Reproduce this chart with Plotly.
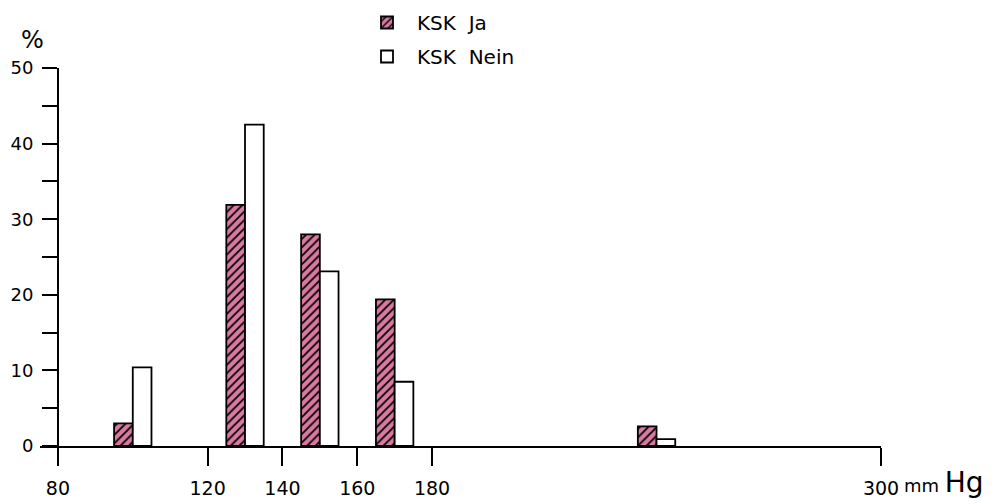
import plotly.graph_objects as go

# Data
bin_starts = [95, 125, 145, 165, 235]          # mmHg, bin start of each pair
ksk_ja = [3.0, 31.9, 28.0, 19.4, 2.6]          # %
ksk_nein = [10.4, 42.5, 23.1, 8.5, 0.9]        # %
bar_width = 5
x_tickvals = [80, 120, 140, 160, 180, 300]
y_tickvals = [0, 5, 10, 15, 20, 25, 30, 35, 40, 45, 50]
y_ticktext = ["0", "", "10", "", "20", "", "30", "", "40", "", "50"]

# page body has an 8px margin: size figure to fit the window
OFF = 8
W, H = 1004 - OFF, 504 - OFF
FONT = "DejaVu Sans"
PINK = "#d9799f"


def px(s):
    return (s - OFF) / W


def py(s):
    return 1 - (s - OFF) / H


fig = go.Figure()
fig.add_trace(go.Bar(
    x=bin_starts, y=ksk_ja, width=bar_width, offset=0,
    name="KSK  Ja", legendgroup="ja",
    marker=dict(color=PINK, line=dict(color="black", width=1.8),
                pattern=dict(shape="/", fgcolor="black", bgcolor=PINK,
                             size=6, solidity=0.3, fillmode="replace")),
))
fig.add_trace(go.Bar(
    x=bin_starts, y=ksk_nein, width=bar_width, offset=bar_width,
    name="KSK  Nein", legendgroup="nein",
    marker=dict(color="white", line=dict(color="black", width=1.8)),
))

fig.update_layout(
    width=W, height=H,
    margin=dict(l=0, r=0, t=0, b=0, autoexpand=False),
    paper_bgcolor="white", plot_bgcolor="white",
    barmode="overlay",
    font=dict(family=FONT, size=19, color="black"),
    showlegend=True,
    legend=dict(x=px(357), y=py(3), xanchor="left", yanchor="top",
                bgcolor="rgba(0,0,0,0)", font=dict(size=20),
                itemwidth=50, tracegroupgap=5, traceorder="grouped"),
    xaxis=dict(domain=[px(40), px(881)], range=[75.2, 300],
               showline=True, linecolor="black", linewidth=2,
               ticks="outside", ticklen=18, tickwidth=2, tickcolor="black",
               tickmode="array", tickvals=x_tickvals,
               ticklabelstandoff=6, automargin=False,
               showgrid=False, zeroline=False, anchor="y",
               tickfont=dict(size=19)),
    yaxis=dict(domain=[py(446), py(68)], range=[0, 50],
               anchor="free", position=px(58),
               showline=True, linecolor="black", linewidth=2,
               ticks="outside", ticklen=15, tickwidth=2, tickcolor="black",
               tickmode="array", tickvals=y_tickvals, ticktext=y_ticktext,
               ticklabelstandoff=5, automargin=False,
               showgrid=False, zeroline=False,
               tickfont=dict(size=18)),
)

fig.add_annotation(x=px(32), y=py(40), xref="paper", yref="paper",
                   text="%", showarrow=False, font=dict(size=24),
                   xanchor="center", yanchor="middle")
fig.add_annotation(x=px(902), y=py(482), xref="paper", yref="paper",
                   text="mm <span style='font-size:28px'>Hg</span>",
                   showarrow=False, font=dict(size=18),
                   xanchor="left", yanchor="middle")

fig.write_html("out.html")
